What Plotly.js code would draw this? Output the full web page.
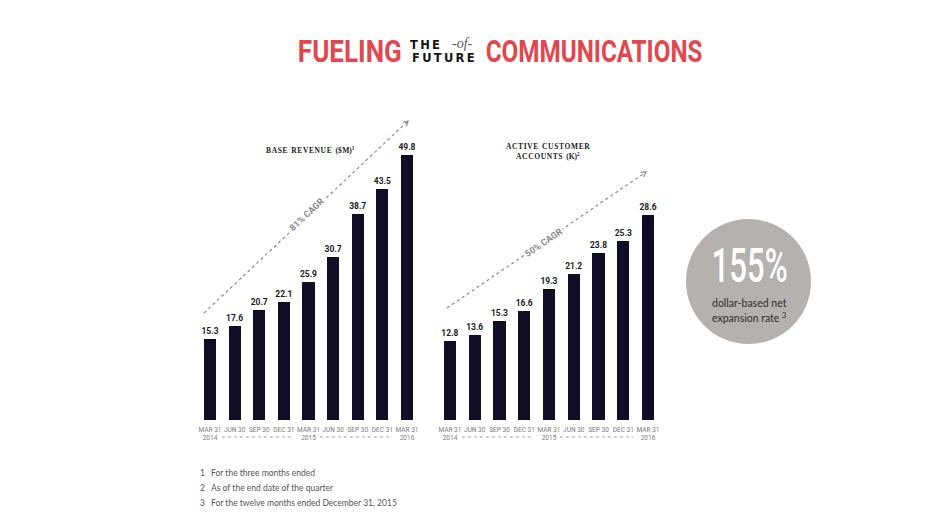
<!DOCTYPE html>
<html>
<head>
<meta charset="utf-8">
<script src="https://cdn.plot.ly/plotly-3.0.1.min.js"></script>
<style>html,body{margin:0;padding:0;background:#fff}#chart{width:946px;height:531px}</style>
</head>
<body>
<div id="chart"></div>
<script>
// ---- data ----
const quarters = ['Mar 31 2014','Jun 30 2014','Sep 30 2014','Dec 31 2014','Mar 31 2015','Jun 30 2015','Sep 30 2015','Dec 31 2015','Mar 31 2016'];
const tickLabels = ['MAR 31<br>2014','JUN 30','SEP 30','DEC 31','MAR 31<br>2015','JUN 30','SEP 30','DEC 31','MAR 31<br>2016'];
const baseRevenue = [15.3, 17.6, 20.7, 22.1, 25.9, 30.7, 38.7, 43.5, 49.8];
const activeAccounts = [12.8, 13.6, 15.3, 16.6, 19.3, 21.2, 23.8, 25.3, 28.6];
const revenueCagr = '81% CAGR';
const accountsCagr = '50% CAGR';
const expansionRate = '155%';
const footnotes = ['For the three months ended', 'As of the end date of the quarter', 'For the twelve months ended December 31, 2015'];

// ---- helpers ----
const W = 946, H = 531;
const px = x => x / W;
const py = y => 1 - y / H;
const idx = quarters.map((q, i) => i);

const BAR = '#100d26';
const RED = '#e1474c';
const GRAY = '#8a8a8a';
const SANS = 'Roboto, "DejaVu Sans", sans-serif';

function barTrace(vals, xa, ya) {
  return {
    type: 'bar', x: idx, y: vals, xaxis: xa, yaxis: ya,
    width: 0.49,
    marker: {color: BAR},
    text: vals.map(v => v.toFixed(1)),
    textposition: 'outside',
    constraintext: 'none',
    cliponaxis: false,
    textfont: {family: SANS, size: 8.5, color: '#1b1b1b', weight: 'bold'},
    hoverinfo: 'skip', showlegend: false
  };
}

const xCommon = {
  tickmode: 'array', tickvals: idx, ticktext: tickLabels, tickangle: 0,
  range: [-0.5, 8.5], showgrid: false, zeroline: false, showline: false,
  ticks: '', ticklabelstandoff: 4, tickfont: {family: SANS, size: 6.5, color: '#7a7a7a'},
  fixedrange: true
};

function dottedArrow(x0, y0, x1, y1) {
  const shapes = [];
  shapes.push({type: 'line', xref: 'paper', yref: 'paper', x0: px(x0), y0: py(y0), x1: px(x1), y1: py(y1),
    line: {color: GRAY, width: 1.2, dash: 'dot'}});
  const dx = x1 - x0, dy = y1 - y0, L = Math.hypot(dx, dy);
  const ux = dx / L, uy = dy / L, a = 5.5;
  const c = Math.cos(Math.PI / 6), s = Math.sin(Math.PI / 6);
  const b1x = x1 - a * (ux * c - uy * s), b1y = y1 - a * (uy * c + ux * s);
  const b2x = x1 - a * (ux * c + uy * s), b2y = y1 - a * (uy * c - ux * s);
  shapes.push({type: 'path', xref: 'paper', yref: 'paper',
    path: `M ${px(b1x)} ${py(b1y)} L ${px(x1)} ${py(y1)} L ${px(b2x)} ${py(b2y)}`,
    line: {color: GRAY, width: 1.2}});
  return shapes;
}
function dotted(x0, x1, y) {
  return {type: 'line', xref: 'paper', yref: 'paper', x0: px(x0), x1: px(x1), y0: py(y), y1: py(y),
    line: {color: '#9a9a9a', width: 0.9, dash: 'dot'}};
}

const shapes = [
  ...dottedArrow(204, 313, 408, 121),
  ...dottedArrow(447, 308, 646, 172),
  dotted(222, 292, 437), dotted(320, 392, 437),
  dotted(462, 534, 437), dotted(560, 633, 437),
  {type: 'circle', xref: 'paper', yref: 'paper', x0: px(686), x1: px(811), y0: py(219), y1: py(344),
    fillcolor: '#b4b1af', line: {width: 0}, layer: 'below'}
];

function ann(text, x, y, opts) {
  return Object.assign({text, x: px(x), y: py(y), xref: 'paper', yref: 'paper', showarrow: false,
    xanchor: 'center', yanchor: 'middle'}, opts || {});
}

const titleFont = {family: SANS, size: 32, color: RED, weight: 'bold'};
const annotations = [
  ann('FUELING', 350, 51, {font: titleFont}),
  ann('COMMUNICATIONS', 593.5, 51, {font: titleFont}),
  ann('T\u2009H\u2009E', 408, 45, {xanchor: 'left', font: {family: 'DejaVu Sans', size: 11.5, color: '#141414', weight: 'bold'}}),
  ann('<i>-of-</i>', 462, 44, {font: {family: 'Liberation Serif', size: 14, color: '#555'}}),
  ann('F\u2009U\u2009T\u2009U\u2009R\u2009E', 443, 57.5, {font: {family: 'DejaVu Sans', size: 11.5, color: '#141414', weight: 'bold'}}),

  ann('B\u200aA\u200aS\u200aE&nbsp; R\u200aE\u200aV\u200aE\u200aN\u200aU\u200aE&nbsp; ($\u200aM)<sup>1</sup>', 310, 150,
    {font: {family: 'Liberation Serif', size: 7.5, color: '#222', weight: 'bold'}}),
  ann('A\u200aC\u200aT\u200aI\u200aV\u200aE&nbsp; C\u200aU\u200aS\u200aT\u200aO\u200aM\u200aE\u200aR<br>A\u200aC\u200aC\u200aO\u200aU\u200aN\u200aT\u200aS&nbsp; (K)<sup>2</sup>', 548, 151,
    {font: {family: 'Liberation Serif', size: 7.5, color: '#222', weight: 'bold'}}),

  ann(revenueCagr, 306, 214.5, {textangle: -43.3, bgcolor: '#fff', borderpad: 1,
    font: {family: SANS, size: 9, color: GRAY, weight: 'bold'}}),
  ann(accountsCagr, 543, 242.5, {textangle: -34.3, bgcolor: '#fff', borderpad: 1,
    font: {family: SANS, size: 9, color: GRAY, weight: 'bold'}}),

  ann(expansionRate, 749, 265, {font: {family: SANS, size: 48, color: '#fff', weight: 500}}),
  ann('dollar-based net', 749, 303, {font: {family: 'Lato', size: 10.5, color: '#2e2e2e'}}),
  ann('expansion rate <sup>3</sup>', 749, 317.5, {font: {family: 'Lato', size: 10.5, color: '#2e2e2e'}})
];
footnotes.forEach((t, i) => {
  const y = [473, 488, 503][i];
  annotations.push(ann(String(i + 1), 198, y, {xanchor: 'left', font: {family: 'Lato', size: 8.5, color: '#555'}}));
  annotations.push(ann(t, 209, y, {xanchor: 'left', font: {family: 'Lato', size: 8.5, color: '#555'}}));
});

const layout = {
  width: W, height: H,
  margin: {l: 0, r: 0, t: 0, b: 0},
  paper_bgcolor: '#fff', plot_bgcolor: 'rgba(0,0,0,0)',
  showlegend: false,
  bargap: 0,
  xaxis: Object.assign({}, xCommon, {domain: [px(197.7), px(419.3)], anchor: 'y'}),
  yaxis: {domain: [py(420), py(150)], range: [0, 50.75], visible: false, fixedrange: true, anchor: 'x'},
  xaxis2: Object.assign({}, xCommon, {domain: [px(437.6), px(660.4)], anchor: 'y2'}),
  yaxis2: {domain: [py(420), py(150)], range: [2.9, 36.76], visible: false, fixedrange: true, anchor: 'x2'},
  shapes, annotations
};

// condensed look for display type: squeeze selected annotation texts to the widths seen in the reference
const squeeze = {0: 104, 1: 217, 9: 76};

Plotly.newPlot('chart', [barTrace(baseRevenue, 'x', 'y'), barTrace(activeAccounts, 'x2', 'y2')], layout,
  {staticPlot: true, displayModeBar: false}).then(gd => {
  const texts = gd.querySelectorAll('.annotation-text');
  Object.keys(squeeze).forEach(k => {
    const t = texts[+k];
    if (!t) return;
    const w = t.getBBox().width;
    if (w > 0) {
      const s = squeeze[k] / w;
      t.style.transformBox = 'fill-box';
      t.style.transformOrigin = 'center';
      t.style.transform = `scaleX(${s})`;
    }
  });
});
</script>
</body>
</html>
